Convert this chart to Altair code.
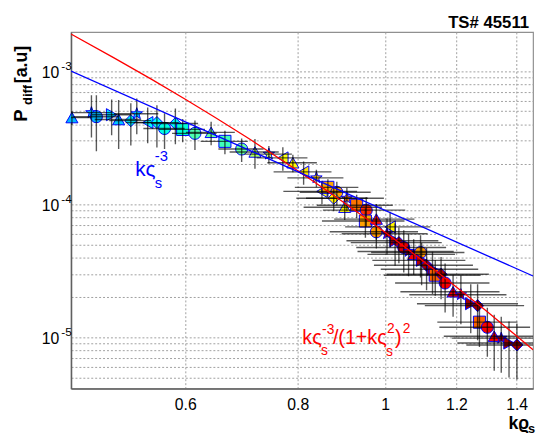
import altair as alt
import pandas as pd

# ---- data ----
k = [0.449, 0.472, 0.478, 0.497, 0.506, 0.522, 0.530, 0.545, 0.558, 0.569,
     0.585, 0.596, 0.615, 0.641, 0.664, 0.693, 0.717, 0.743, 0.770, 0.790,
     0.812, 0.839, 0.851, 0.864, 0.884, 0.877, 0.907, 0.902, 0.930, 0.953,
     0.951, 0.978, 0.978, 1.013, 1.005, 1.026, 1.036, 1.049, 1.062, 1.076,
     1.095, 1.098, 1.112, 1.129, 1.137, 1.154, 1.166, 1.190, 1.214, 1.245,
     1.267, 1.273, 1.299, 1.322, 1.346, 1.373, 1.401]
p = [4.48e-4, 4.88e-4, 4.55e-4, 4.71e-4, 4.33e-4, 4.25e-4, 4.79e-4, 4.11e-4, 4.11e-4, 3.71e-4,
     4.04e-4, 3.65e-4, 3.41e-4, 3.47e-4, 2.97e-4, 2.60e-4, 2.47e-4, 2.38e-4, 2.23e-4, 2.05e-4,
     1.75e-4, 1.58e-4, 1.25e-4, 1.34e-4, 1.23e-4, 1.11e-4, 1.11e-4, 9.50e-5, 9.83e-5, 9.03e-5,
     7.48e-5, 7.74e-5, 6.21e-5, 6.76e-5, 6.00e-5, 5.32e-5, 5.15e-5, 4.73e-5, 4.42e-5, 4.20e-5,
     4.34e-5, 3.79e-5, 3.48e-5, 3.25e-5, 2.93e-5, 2.98e-5, 2.56e-5, 2.20e-5, 2.09e-5, 1.79e-5,
     1.73e-5, 1.30e-5, 1.19e-5, 1.02e-5, 9.86e-6, 9.06e-6, 8.76e-6]
kerr = [0.022, 0.025, 0.028, 0.025, 0.030, 0.028, 0.030, 0.030, 0.032, 0.030,
        0.035, 0.035, 0.035, 0.040, 0.040, 0.040, 0.045, 0.045, 0.050, 0.050,
        0.060, 0.060, 0.080, 0.070, 0.080, 0.080, 0.090, 0.090, 0.090, 0.100,
        0.100, 0.100, 0.110, 0.110, 0.110, 0.120, 0.120, 0.120, 0.130, 0.120,
        0.130, 0.130, 0.140, 0.140, 0.140, 0.150, 0.140, 0.150, 0.150, 0.160,
        0.160, 0.130, 0.150, 0.160, 0.160, 0.170, 0.170]
perr = [0.12, 0.35, 0.45, 0.30, 0.40, 0.35, 0.30, 0.30, 0.35, 0.30,
        0.30, 0.20, 0.25, 0.20, 0.20, 0.20, 0.25, 0.15, 0.20, 0.15,
        0.20, 0.15, 0.20, 0.15, 0.20, 0.20, 0.20, 0.20, 0.20, 0.25,
        0.25, 0.30, 0.25, 0.30, 0.30, 0.35, 0.30, 0.35, 0.35, 0.30,
        0.35, 0.35, 0.35, 0.35, 0.30, 0.35, 0.40, 0.35, 0.40, 0.40,
        0.45, 0.35, 0.40, 0.45, 0.45, 0.45, 0.45]
cval = [0.27, 0.28, 0.27, 0.32, 0.29, 0.36, 0.30, 0.37, 0.38, 0.42,
        0.38, 0.44, 0.48, 0.50, 0.47, 0.50, 0.56, 0.58, 0.62, 0.63,
        0.66, 0.70, 0.62, 0.74, 0.74, 0.64, 0.78, 0.63, 0.80, 0.86,
        0.75, 0.87, 0.76, 0.64, 0.93, 0.94, 0.94, 0.90, 0.95, 0.88,
        0.76, 0.95, 0.96, 0.96, 0.82, 0.96, 0.88, 0.88, 0.96, 0.97,
        0.97, 0.82, 0.88, 0.88, 0.96, 0.97, 0.97]
grp = [0, 5, 1, 2, 0, 4, 5, 6, 4, 1,
       4, 3, 1, 0, 3, 1, 0, 5, 6, 0,
       6, 5, 6, 3, 1, 4, 5, 0, 3, 1,
       3, 0, 1, 6, 5, 2, 4, 1, 5, 0,
       1, 2, 4, 2, 3, 4, 1, 0, 5, 2,
       4, 3, 1, 0, 5, 2, 4]

curve_k = [0.448, 0.5, 0.55, 0.6, 0.7, 0.8, 0.9, 1.0, 1.1, 1.2, 1.3, 1.4, 1.46]
red_p = [1.90e-3, 1.26e-3, 8.72e-4, 6.16e-4, 3.23e-4, 1.786e-4, 1.030e-4,
         6.15e-5, 3.78e-5, 2.39e-5, 1.547e-5, 1.023e-5, 8.06e-6]
blue_k = [0.448, 1.46]
blue_p = [1.0e-3, 2.89e-5]

x_ticks = [0.6, 0.8, 1, 1.2, 1.4]
y_grid = [m * 10.0 ** e for e in (-6, -5, -4) for m in range(1, 10)] + [1e-3]
y_grid = [v for v in y_grid if v > 4.2e-6]
y_label_p = [1e-3, 1e-4, 1e-5]
y_label_exp = ["-3", "-4", "-5"]

FONT = "Liberation Sans"

df = pd.DataFrame({"k": k, "p": p, "kerr": kerr, "perr": perr, "c": cval, "g": grp})
df["k_lo"] = df.k - df.kerr
df["k_hi"] = df.k + df.kerr
df["p_lo"] = df.p * (1 - df.perr)
df["p_hi"] = df.p * (1 + df.perr)

xs = alt.Scale(type="log", domain=[0.448, 1.46], nice=False)
ys = alt.Scale(type="log", domain=[4.12e-6, 1.97e-3], nice=False)

xax = alt.Axis(values=x_ticks, format="~g", grid=True, gridDash=[2, 2],
               gridColor="#a0a0a0", ticks=False, labelFont=FONT,
               labelFontSize=16, labelPadding=8, labelColor="#000",
               domainColor="#606060", domainWidth=1.5, title=None)
yax = alt.Axis(values=y_grid, labels=False, grid=True, gridDash=[2, 2],
               gridColor="#a0a0a0", ticks=False,
               domainColor="#606060", domainWidth=1.5, title=None)


def X(field):
    return alt.X(field, scale=xs, axis=xax, title=None)


def Y(field):
    return alt.Y(field, scale=ys, axis=yax, title=None)


star = ("M0,-1L0.235,-0.324L0.951,-0.309L0.380,0.124L0.588,0.809L0,0.4"
        "L-0.588,0.809L-0.380,0.124L-0.951,-0.309L-0.235,-0.324Z")
shapes = ["triangle-up", "circle", "triangle-right", "square", "diamond", star, "triangle-left"]
jet_dom = [0, 0.125, 0.375, 0.625, 0.875, 1]
jet_rng = ["#00008f", "#0000ff", "#00ffff", "#ffff00", "#ff0000", "#800000"]

pts = alt.Chart(df).mark_point(filled=True, size=150, stroke="#0000ff",
                               strokeWidth=1, opacity=1).encode(
    x=X("k:Q"), y=Y("p:Q"),
    fill=alt.Fill("c:Q", scale=alt.Scale(domain=jet_dom, range=jet_rng), legend=None),
    shape=alt.Shape("g:N", scale=alt.Scale(domain=list(range(7)), range=shapes), legend=None),
)

herr = alt.Chart(df).mark_rule(color="#000", opacity=0.65, strokeWidth=1.4, clip=True).encode(
    x=X("k_lo:Q"), x2="k_hi:Q", y=Y("p:Q"))
verr = alt.Chart(df).mark_rule(color="#000", opacity=0.65, strokeWidth=1.4, clip=True).encode(
    x=X("k:Q"), y=Y("p_lo:Q"), y2="p_hi:Q")

red = alt.Chart(pd.DataFrame({"k": curve_k, "p": red_p})).mark_line(
    color="#ff0000", strokeWidth=1.3, clip=True, interpolate="monotone").encode(
    x=X("k:Q"), y=Y("p:Q"))
blue = alt.Chart(pd.DataFrame({"k": blue_k, "p": blue_p})).mark_line(
    color="#0000ff", strokeWidth=1.3, clip=True).encode(
    x=X("k:Q"), y=Y("p:Q"))


def piece(d, txt, dx, dy, size, color, weight="normal"):
    return alt.Chart(d).mark_text(text=txt, dx=dx, dy=dy, fontSize=size, color=color,
                                  align="left", baseline="alphabetic", font=FONT,
                                  fontWeight=weight).encode(x=X("k:Q"), y=Y("p:Q"))


blue_anchor = pd.DataFrame({"k": [0.5278], "p": [1.639e-4]})
red_anchor = pd.DataFrame({"k": [0.8094], "p": [8.91e-6]})
labels = [
    piece(blue_anchor, "kς", 0, 0, 21, "#0000ff"),
    piece(blue_anchor, "-3", 20, -15, 15, "#0000ff"),
    piece(blue_anchor, "s", 20, 12, 15, "#0000ff"),
    piece(red_anchor, "kς", 0, 0, 20, "#ff0000"),
    piece(red_anchor, "-3", 20, -10, 14, "#ff0000"),
    piece(red_anchor, "s", 19, 11, 14, "#ff0000"),
    piece(red_anchor, "/(1+kς", 31, 0, 20, "#ff0000"),
    piece(red_anchor, "2", 86, -11, 14, "#ff0000"),
    piece(red_anchor, "s", 85, 12, 14, "#ff0000"),
    piece(red_anchor, ")", 94, 0, 20, "#ff0000"),
    piece(red_anchor, "2", 102, -11, 14, "#ff0000"),
]

ylab_df = pd.DataFrame({"p": y_label_p, "e": y_label_exp})
ylab10 = alt.Chart(ylab_df).mark_text(text="10", align="right", baseline="middle", dy=2,
                                      fontSize=16, font=FONT, color="#000").encode(
    x=alt.value(-12), y=Y("p:Q"))
ylabexp = alt.Chart(ylab_df).mark_text(align="left", baseline="alphabetic", dy=-1,
                                       fontSize=12, font=FONT, color="#000").encode(
    x=alt.value(-10), y=Y("p:Q"), text="e:N")

one = pd.DataFrame({"a": [0]})


def fixed(txt, x, y, size, weight="bold", align="left", angle=0):
    kw = dict(text=txt, fontSize=size, fontWeight=weight, align=align,
              baseline="alphabetic", font=FONT, color="#000")
    if angle:
        kw["angle"] = angle
    return alt.Chart(one).mark_text(**kw).encode(x=alt.value(x), y=alt.value(y))


titles = [
    fixed("TS# 45511", 465, -4, 17, align="right"),
    fixed("P", -45, 91, 19, angle=270),
    fixed("diff", -40, 74, 13, angle=270),
    fixed("[a.u]", -45, 52, 18, angle=270),
    fixed("kϱ", 444, 403, 18),
    fixed("s", 464, 407, 13),
]

chart = alt.layer(pts, herr, verr, red, blue, ylab10, ylabexp, *labels, *titles).properties(
    width=469, height=362,
    padding={"left": 64, "top": 21, "right": 3, "bottom": 60},
    autosize=alt.AutoSizeParams(type="none"),
).configure_view(stroke="#909090", strokeWidth=1.2)

chart.save("out.html", embed_options={"renderer": "svg", "actions": False})
